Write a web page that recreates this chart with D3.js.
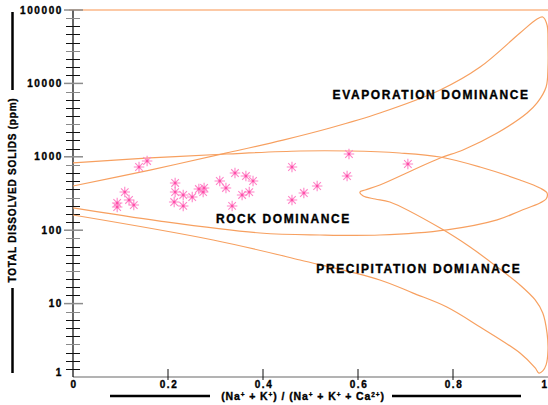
<!DOCTYPE html>
<html>
<head>
<meta charset="utf-8">
<script src="https://cdn.jsdelivr.net/npm/d3@7"></script>
<style>
  html, body { margin: 0; padding: 0; background: #fff; }
  svg { display: block; font-family: "Liberation Sans", Arial, sans-serif; }
  .lbl { font-weight: bold; fill: #000; }
  .heavy { stroke: #000; stroke-width: 0.35px; paint-order: stroke; }
</style>
</head>
<body>
<svg id="chart" width="548" height="405"></svg>
<script>
// Gibbs diagram: TDS vs (Na+K)/(Na+K+Ca)
const xTickValues = [0, 0.2, 0.4, 0.6, 0.8, 1];
const xTickLabels = ["0", "0.2", "0.4", "0.6", "0.8", "1"];
const yTickValues = [1, 10, 100, 1000, 10000, 100000];
const yTickLabels = ["1", "10", "100", "1000", "10000", "100000"];

// Outer boomerang boundary (evaporation / precipitation envelope)
const outerRatio = [0, 0.162, 0.324, 0.442, 0.541, 0.646, 0.773, 0.857, 0.941, 0.977, 0.989, 0.998, 1.0, 1.0,
  0.996, 0.977, 0.956, 0.893, 0.821, 0.773, 0.716, 0.646, 0.615, 0.604, 0.611, 0.636, 0.667, 0.773, 0.836,
  0.893, 0.941, 0.973, 0.989, 0.998, 1.0, 0.996, 0.989, 0.981, 0.973, 0.941, 0.857, 0.787, 0.716, 0.646,
  0.478, 0.295, 0];
const outerTDS = [400, 660, 1130, 1690, 2470, 3950, 8130, 16700, 48600, 75400, 80300, 62500, 33400, 16700,
  8930, 5410, 3950, 2110, 1240, 964, 661, 413, 353, 331, 292, 266, 242, 107, 59,
  31.5, 17.9, 11.2, 7.44, 3.97, 2.33, 1.46, 1.21, 1.13, 1.33, 2.12, 4.8, 8.99, 13.9, 21.0,
  39.3, 73.5, 161];

// Inner rock-dominance loop
const rockRatio = [0, 0.162, 0.324, 0.478, 0.583, 0.688, 0.773, 0.857, 0.941, 0.983, 0.998, 0.996, 0.983,
  0.941, 0.893, 0.787, 0.646, 0.52, 0.394, 0.183, 0];
const rockTDS = [824, 964, 1092, 1200, 1200, 1127, 994, 726, 483, 376, 321, 266, 235,
  183, 138, 101, 86, 86, 91.6, 133, 201];

// Water samples
const sampleRatio = [0.156, 0.139, 0.109, 0.093, 0.093, 0.118, 0.128, 0.215, 0.215, 0.232, 0.213, 0.232,
  0.251, 0.265, 0.276, 0.274, 0.309, 0.322, 0.341, 0.364, 0.379, 0.356, 0.371, 0.335, 0.461, 0.577,
  0.514, 0.486, 0.461, 0.581, 0.705];
const sampleTDS = [877, 726, 331, 235, 207, 258, 220, 440, 331, 302, 242, 214,
  283, 364, 376, 331, 468, 376, 601, 547, 468, 302, 331, 214, 726, 547,
  400, 321, 258, 1092, 798];

const zoneLabels = ["EVAPORATION DOMINANCE", "ROCK DOMINANCE", "PRECIPITATION DOMIANACE"];
const xTitleParts = [["(Na", ""], ["+", "sup"], [" + K", ""], ["+", "sup"], [") / (Na", ""], ["+", "sup"],
  [" + K", ""], ["+", "sup"], [" + Ca", ""], ["2+", "sup"], [")", ""]];
const yTitle = "TOTAL DISSOLVED SOLIDS (ppm)";

const svg = d3.select("#chart");
const x = d3.scaleLinear().domain([0, 1]).range([73, 548]);
const y = d3.scaleLog().domain([1, 100000]).range([377, 10]);

const curveColor = "#f7a060";

// top frame line at 100000
svg.append("line")
  .attr("x1", x(0) - 4).attr("x2", x(1)).attr("y1", y(100000)).attr("y2", y(100000))
  .attr("stroke", "#fcc9a6").attr("stroke-width", 2);

// x axis baseline
svg.append("line")
  .attr("x1", x(0)).attr("x2", x(1) + 2).attr("y1", y(1)).attr("y2", y(1))
  .attr("stroke", "#9a9a9a").attr("stroke-width", 1.5);

// y axis line
svg.append("line")
  .attr("x1", x(0)).attr("x2", x(0)).attr("y1", y(100000)).attr("y2", y(1))
  .attr("stroke", "#000").attr("stroke-width", 1.2);

// y minor ticks: eight per decade
const minor = [];
for (let k = 0; k < 5; k++) {
  for (let j = 1; j <= 8; j++) minor.push(Math.pow(10, k + j / 9));
}
svg.append("g").selectAll("line").data(minor).join("line")
  .attr("x1", x(0) - 7).attr("x2", x(0) + 7)
  .attr("y1", d => Math.round(y(d)) + 0.5).attr("y2", d => Math.round(y(d)) + 0.5)
  .attr("stroke", (d, i) => (i % 4 === 3 ? "#8a8a8a" : "#111")).attr("stroke-width", 1);

// y major ticks
svg.append("g").selectAll("line").data(yTickValues.slice(1)).join("line")
  .attr("x1", x(0) - 9).attr("x2", x(0) + 10)
  .attr("y1", d => y(d)).attr("y2", d => y(d))
  .attr("stroke", "#8c8c8c").attr("stroke-width", 1.5);

svg.append("g").selectAll("text").data(yTickValues).join("text")
  .attr("class", "lbl heavy")
  .attr("x", 63).attr("y", (d, i) => y(d) + (i === 0 ? -1 : 3.5))
  .attr("text-anchor", "end")
  .style("font-size", "10px").style("letter-spacing", "1.6px")
  .text((d, i) => yTickLabels[i]);

// x ticks
svg.append("g").selectAll("line").data(xTickValues.slice(1, 5)).join("line")
  .attr("x1", d => x(d)).attr("x2", d => x(d))
  .attr("y1", y(1) - 8).attr("y2", y(1) + 3)
  .attr("stroke", "#111").attr("stroke-width", 1);

svg.append("g").selectAll("text").data(xTickValues).join("text")
  .attr("class", "lbl heavy")
  .attr("x", (d, i) => (i === xTickValues.length - 1 ? x(d) - 1 : x(d) + 1)).attr("y", 388)
  .attr("text-anchor", (d, i) => (i === xTickValues.length - 1 ? "end" : "middle"))
  .style("font-size", "10px").style("letter-spacing", (d, i) => (i === xTickValues.length - 1 ? "0px" : "1.6px"))
  .text((d, i) => xTickLabels[i]);

// boundary curves
const line = d3.line()
  .x(d => x(d[0])).y(d => y(d[1]))
  .curve(d3.curveCatmullRom.alpha(0.5));

svg.append("path")
  .datum(outerRatio.map((r, i) => [r, outerTDS[i]]))
  .attr("d", line)
  .attr("fill", "none").attr("stroke", curveColor).attr("stroke-width", 1.2);

svg.append("path")
  .datum(rockRatio.map((r, i) => [r, rockTDS[i]]))
  .attr("d", line)
  .attr("fill", "none").attr("stroke", curveColor).attr("stroke-width", 1.2);

// eight-armed asterisk marker
const asterisk = {
  draw(ctx, size) {
    const r = Math.sqrt(size) / 2;
    const d = r * 0.72;
    ctx.moveTo(-r, 0); ctx.lineTo(r, 0);
    ctx.moveTo(0, -r); ctx.lineTo(0, r);
    ctx.moveTo(-d, -d); ctx.lineTo(d, d);
    ctx.moveTo(-d, d); ctx.lineTo(d, -d);
  }
};
const samples = sampleRatio.map((r, i) => [r, sampleTDS[i]]);
const gS = svg.append("g");
gS.selectAll("path").data(samples).join("path")
  .attr("transform", d => `translate(${x(d[0])},${y(d[1])})`)
  .attr("d", d3.symbol().type(asterisk).size(110))
  .attr("fill", "none").attr("stroke", "#ff85c8").attr("stroke-width", 1.1);
gS.selectAll("circle").data(samples).join("circle")
  .attr("cx", d => x(d[0])).attr("cy", d => y(d[1])).attr("r", 1.3)
  .attr("fill", "#ff4fa8");

// zone labels
const zonePos = [[0.754, 99], [0.443, 223], [0.728, 273]];
svg.append("g").selectAll("text").data(zoneLabels).join("text")
  .attr("class", "lbl heavy")
  .attr("x", (d, i) => x(zonePos[i][0])).attr("y", (d, i) => zonePos[i][1])
  .attr("text-anchor", "middle")
  .style("font-size", "12px").style("letter-spacing", "1.6px")
  .text(d => d);

// x title with flanking rules
const xt = svg.append("text").attr("class", "lbl heavy")
  .attr("x", 303).attr("y", 400).attr("text-anchor", "middle")
  .style("font-size", "10.5px").style("letter-spacing", "0.9px");
xTitleParts.forEach(([t, kind], i) => {
  const ts = xt.append("tspan").text(t);
  if (kind === "sup") ts.attr("dy", -3.5).style("font-size", "6.5px");
  else if (i > 0 && xTitleParts[i - 1][1] === "sup") ts.attr("dy", 3.5);
});
svg.append("line").attr("x1", 110).attr("x2", 210).attr("y1", 396).attr("y2", 396)
  .attr("stroke", "#000").attr("stroke-width", 2.5);
svg.append("line").attr("x1", 392).attr("x2", 521).attr("y1", 396).attr("y2", 396)
  .attr("stroke", "#000").attr("stroke-width", 2.5);

// y title with flanking rules
svg.append("text").attr("class", "lbl heavy")
  .attr("transform", "translate(16,190) rotate(-90)")
  .attr("text-anchor", "middle")
  .style("font-size", "10px").style("letter-spacing", "0.8px")
  .text(yTitle);
svg.append("line").attr("x1", 12.5).attr("x2", 12.5).attr("y1", 12).attr("y2", 90)
  .attr("stroke", "#000").attr("stroke-width", 2.5);
svg.append("line").attr("x1", 12.5).attr("x2", 12.5).attr("y1", 288).attr("y2", 373)
  .attr("stroke", "#000").attr("stroke-width", 2.5);
</script>
</body>
</html>
